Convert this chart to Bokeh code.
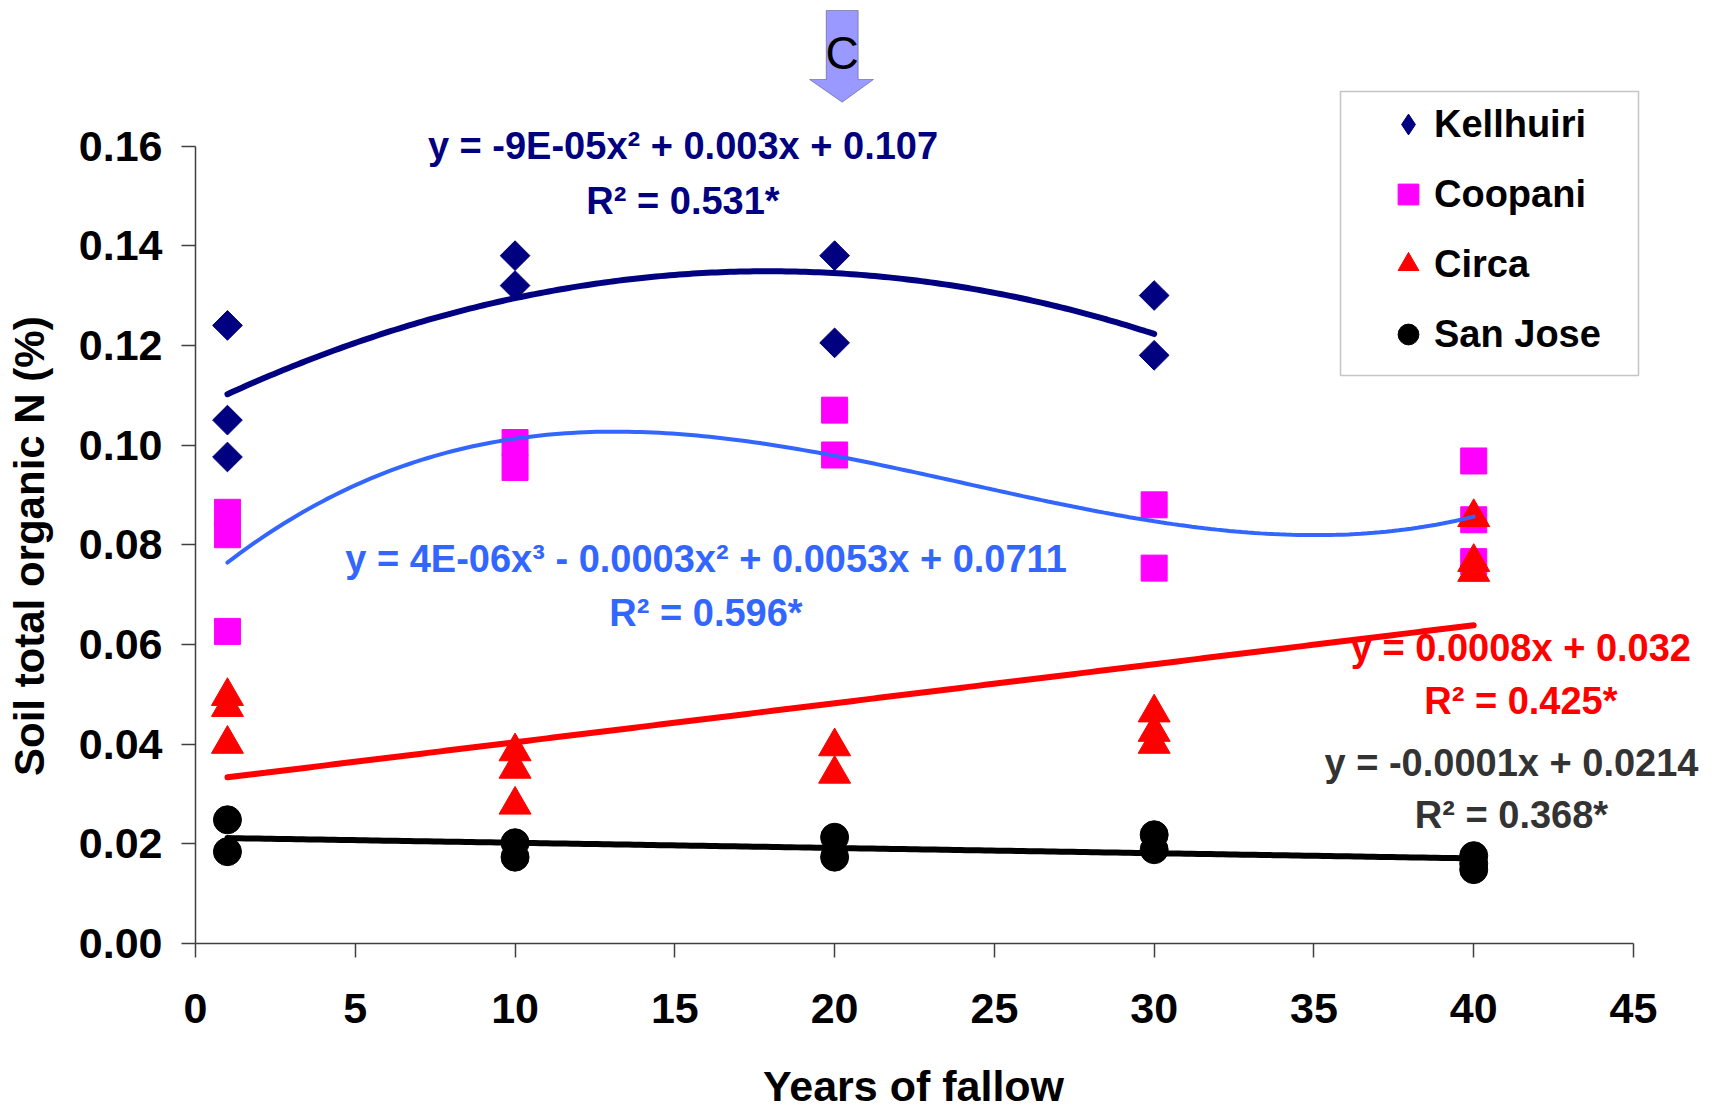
import numpy as np
from bokeh.plotting import figure
from bokeh.models import (Range1d, FixedTicker, PrintfTickFormatter, Label, Legend,
                          LegendItem, PolyAnnotation, BoxAnnotation)
from bokeh.embed import file_html
from bokeh.resources import INLINE

# ---------------- data ----------------
x_ticks = [0, 5, 10, 15, 20, 25, 30, 35, 40, 45]
y_ticks = [0.00, 0.02, 0.04, 0.06, 0.08, 0.10, 0.12, 0.14, 0.16]

series_names = ["Kellhuiri", "Coopani", "Circa", "San Jose"]

kell_x = [1, 1, 1, 10, 10, 20, 20, 30, 30]
kell_y = [0.124, 0.105, 0.0976, 0.138, 0.132, 0.138, 0.1205, 0.130, 0.118]

coop_x = [1, 1, 1, 10, 10, 20, 20, 30, 30, 40, 40, 40]
coop_y = [0.0865, 0.082, 0.0626, 0.1005, 0.0955, 0.107, 0.098, 0.088, 0.0753,
          0.0968, 0.085, 0.0766]

circ_x = [1, 1, 1, 10, 10, 10, 20, 20, 30, 30, 30, 40, 40, 40]
circ_y = [0.0496, 0.0474, 0.040, 0.0385, 0.035, 0.0278, 0.0395, 0.034, 0.0463,
          0.0424, 0.040, 0.0855, 0.0765, 0.0745]

sanj_x = [1, 1, 10, 10, 20, 20, 30, 30, 40, 40, 40]
sanj_y = [0.0248, 0.0184, 0.0202, 0.0173, 0.0213, 0.0173, 0.0218, 0.0188,
          0.0176, 0.0160, 0.0148]

trend_degree = [2, 3, 1, 1]
equation_text = ["y = -9E-05x\u00b2 + 0.003x + 0.107",
                 "y = 4E-06x\u00b3 - 0.0003x\u00b2 + 0.0053x + 0.0711",
                 "y = 0.0008x + 0.032",
                 "y = -0.0001x + 0.0214"]
r2_text = ["R\u00b2 = 0.531*", "R\u00b2 = 0.596*", "R\u00b2 = 0.425*", "R\u00b2 = 0.368*"]
x_title = "Years of fallow"
y_title = "Soil total organic N (%)"

# ---------------- layout (screen pixels of the page) ----------------
W, H = 1713, 1109
PX_X0, PX_X45 = 195.0, 1633.0      # screen x of x=0 and x=45
PX_Y0, PX_Y16 = 942.9, 145.5       # screen y of y=0 and y=0.16
KX = (PX_X45 - PX_X0) / 45.0
KY = (PX_Y0 - PX_Y16) / 0.16


def dx(px):
    return (px - PX_X0) / KX


def dy(py):
    return (PX_Y0 - py) / KY


FONT = "Liberation Sans"
marker_color = ["#000080", "#FF00FF", "#FF0000", "#000000"]
trend_color = ["#000080", "#3366FF", "#FF0000", "#000000"]
trend_width = [6, 4, 6, 6]
eq_color = ["#000080", "#3366FF", "#FF0000", "#333333"]
eq_px_x = [682.5, 705.5, 1520.4, 1511.0]
eq_px_y1 = [145.5, 558.9, 647.5, 762.4]
eq_px_y2 = [200.2, 612.5, 700.0, 814.9]

p = figure(width=W, height=H, output_backend="svg", toolbar_location=None,
           x_range=Range1d(dx(0), dx(W)), y_range=Range1d(dy(H), dy(0)),
           min_border=0)
p.outline_line_color = None
p.xgrid.visible = False
p.ygrid.visible = False
p.background_fill_color = "white"
p.border_fill_color = "white"

p.xaxis.ticker = FixedTicker(ticks=x_ticks)
p.yaxis.ticker = FixedTicker(ticks=y_ticks)
p.yaxis.formatter = PrintfTickFormatter(format="%.2f")
p.xaxis.fixed_location = 0
p.yaxis.fixed_location = 0
p.xaxis.bounds = (x_ticks[0], x_ticks[-1])
p.yaxis.bounds = (y_ticks[0], y_ticks[-1])
for ax in (p.xaxis[0], p.yaxis[0]):
    ax.axis_line_color = "#404040"
    ax.axis_line_width = 1.5
    ax.major_tick_line_color = "#404040"
    ax.major_tick_line_width = 1.5
    ax.major_tick_out = 14
    ax.major_tick_in = 0
    ax.minor_tick_line_color = None
    ax.major_label_text_font = FONT
    ax.major_label_text_font_size = "43px"
    ax.major_label_text_font_style = "bold"
    ax.major_label_text_color = "black"
p.xaxis.major_label_standoff = 37
p.yaxis.major_label_standoff = 19

# axis titles
p.add_layout(Label(x=dx(913), y=dy(1085), text=x_title, text_align="center",
                   text_baseline="middle", text_font=FONT, text_font_size="43px",
                   text_font_style="bold", text_color="black"))
p.add_layout(Label(x=dx(29), y=dy(545.7), text=y_title, text_align="center",
                   text_baseline="middle", angle=np.pi / 2, text_font=FONT,
                   text_font_size="42px", text_font_style="bold", text_color="black"))

# ---------------- legend frame ----------------
p.add_layout(BoxAnnotation(left=dx(1340), right=dx(1638), top=dy(91), bottom=dy(375),
                           fill_color="white", fill_alpha=1.0, line_color="#404040",
                           line_width=1.5, level="underlay"))

# ---------------- markers ----------------
xs_all = [kell_x, coop_x, circ_x, sanj_x]
ys_all = [kell_y, coop_y, circ_y, sanj_y]
# diamond glyph of the same points (hidden under the rotated squares; used as legend key)
r_k_key = p.scatter(kell_x, kell_y, marker="diamond", size=20,
                    fill_color=marker_color[0], line_color=marker_color[0])
r_k = p.scatter(kell_x, kell_y, marker="square", angle=np.pi / 4, size=21,
                fill_color=marker_color[0], line_color=marker_color[0])
r_c = p.scatter(coop_x, coop_y, marker="square", size=26,
                fill_color=marker_color[1], line_color=marker_color[1])
r_t = p.scatter(circ_x, circ_y, marker="triangle", size=32,
                fill_color=marker_color[2], line_color=marker_color[2])
r_s = p.scatter(sanj_x, sanj_y, marker="circle", size=28,
                fill_color=marker_color[3], line_color=marker_color[3])
legend_renderers = [r_k_key, r_c, r_t, r_s]

# ---------------- trendlines (least-squares fits of the data) ----------------
for xs, ys, deg, col, lw in zip(xs_all, ys_all, trend_degree, trend_color, trend_width):
    coef = np.polyfit(xs, ys, deg)
    xx = np.linspace(min(xs), max(xs), 200)
    p.line(xx, np.polyval(coef, xx), line_color=col, line_width=lw, line_cap="round")

# ---------------- equation labels ----------------
for i in range(4):
    for txt, py in ((equation_text[i], eq_px_y1[i]), (r2_text[i], eq_px_y2[i])):
        p.add_layout(Label(x=dx(eq_px_x[i]), y=dy(py), text=txt, text_align="center",
                           text_baseline="middle", text_font=FONT,
                           text_font_size="38px", text_font_style="bold",
                           text_color=eq_color[i]))

# ---------------- arrow "C" ----------------
ax_px = [825.7, 857.7, 857.7, 873.0, 841.7, 809.0, 825.7]
ay_px = [10.0, 10.0, 79.0, 79.0, 101.7, 79.0, 79.0]
p.add_layout(PolyAnnotation(xs=[dx(v) for v in ax_px], ys=[dy(v) for v in ay_px],
                            fill_color="#9999FF", fill_alpha=1.0,
                            line_color="black", line_width=1))
p.add_layout(Label(x=dx(841.7), y=dy(52), text="C", text_align="center",
                   text_baseline="middle", text_font=FONT, text_font_size="46px",
                   text_color="black"))

# ---------------- legend ----------------
legend = Legend(items=[LegendItem(label=n, renderers=[r])
                       for n, r in zip(series_names, legend_renderers)],
                location=(1382, H - 361), orientation="vertical",
                glyph_width=52, glyph_height=54, spacing=16, padding=0,
                label_standoff=0, margin=0,
                label_text_font=FONT, label_text_font_size="38px",
                label_text_font_style="bold", label_text_color="black",
                border_line_color=None, background_fill_alpha=0.0)
p.add_layout(legend)

open("out.html", "w").write(file_html(p, INLINE))
